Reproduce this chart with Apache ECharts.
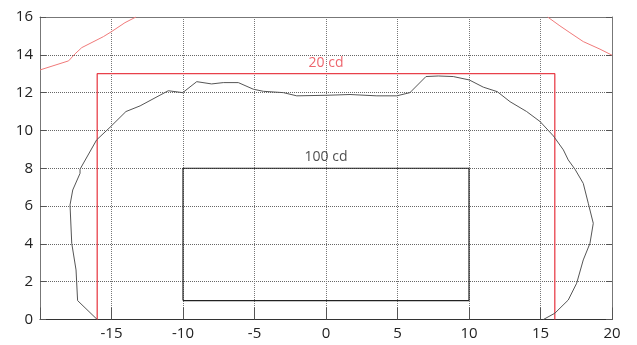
<!DOCTYPE html>
<html><head><meta charset="utf-8">
<script src="https://cdn.jsdelivr.net/npm/echarts@6/dist/echarts.min.js"></script>
<style>html,body{margin:0;padding:0;background:#fff}#c{width:637px;height:345px}</style>
</head><body><div id="c"></div>
<script>
// Data (x, y pairs)
const contour = [[15.2,0],[16.0,0.33],[16.94,1.03],[17.53,1.92],[17.99,3.15],[18.46,4.03],[18.69,5.09],[18.34,6.15],[17.99,7.2],[17.41,7.95],[16.94,8.44],[16.6,8.97],[15.9,9.71],[14.97,10.47],[14.03,11.0],[12.87,11.52],[11.98,12.05],[11.0,12.29],[10.02,12.67],[8.9,12.85],[7.85,12.88],[6.99,12.85],[5.87,12.0],[4.95,11.83],[3.55,11.83],[1.68,11.9],[0.05,11.86],[-2.05,11.83],[-2.98,12.0],[-4.38,12.07],[-5.08,12.18],[-6.13,12.53],[-7.18,12.53],[-8.0,12.46],[-9.04,12.58],[-10.02,12.0],[-11.03,12.1],[-13.0,11.3],[-13.99,11.0],[-15.1,10.17],[-16.04,9.5],[-17.2,7.95],[-17.2,7.73],[-17.71,6.85],[-17.9,6.06],[-17.78,4.03],[-17.48,2.62],[-17.37,1.0],[-16.0,0]];
const redCurveLeft = [[-20,13.2],[-18.0,13.68],[-17.55,14.05],[-17.08,14.38],[-15.57,14.96],[-14.99,15.23],[-14.06,15.7],[-13.29,16]];
const redCurveRight = [[15.5,16],[16.36,15.53],[17.06,15.17],[17.99,14.7],[19.16,14.3],[20,13.98]];
const rect20 = [[-16,0],[-16,13],[16,13],[16,0]];
const rect100 = [[-10,1],[-10,8],[10,8],[10,1],[-10,1]];
const labelPoints = [[0,13,'20 cd'],[0,8,'100 cd']];
const xTicks = [-15,-10,-5,0,5,10,15,20];
const yTicks = [0,2,4,6,8,10,12,14,16];

const chart = echarts.init(document.getElementById('c'), null, {renderer:'canvas'});
const font = '"Open Sans", sans-serif';
const lineSeries = (data, color, width) => ({type:'line', data, showSymbol:false, symbol:'none', lineStyle:{color, width}, animation:false, z:3});
chart.setOption({
  animation:false,
  grid:{left:40, right:25, top:17, bottom:25.5},
  xAxis:[{type:'value', min:-20, max:20, interval:5,
    axisLine:{show:true, onZero:false, lineStyle:{color:'#333', width:1}},
    axisTick:{show:true, inside:true, length:12, lineStyle:{color:'#555'}},
    axisLabel:{color:'#222', fontSize:15, fontFamily:font, margin:7,
      formatter:v => xTicks.includes(v) ? String(v) : ''},
    splitLine:{show:true, lineStyle:{type:'dotted', color:'#777', width:1}}},
    {type:'value', position:'top', min:-20, max:20, interval:5,
    axisLine:{show:true, onZero:false, lineStyle:{color:'#777'}}, axisTick:{show:false}, axisLabel:{show:false}, splitLine:{show:false}}],
  yAxis:[{type:'value', min:0, max:16, interval:2,
    axisLine:{show:true, onZero:false, lineStyle:{color:'#777'}},
    axisTick:{show:true, inside:true, length:6, lineStyle:{color:'#555'}},
    axisLabel:{color:'#222', fontSize:15, fontFamily:font, margin:7,
      formatter:v => yTicks.includes(v) ? String(v) : ''},
    splitLine:{show:true, lineStyle:{type:'dotted', color:'#666', width:1}}},
    {type:'value', position:'right', min:0, max:16, interval:2,
    axisLine:{show:true, onZero:false, lineStyle:{color:'#777'}},
    axisTick:{show:true, inside:true, length:6, lineStyle:{color:'#555'}},
    axisLabel:{show:false}, splitLine:{show:false}}],
  series:[
    lineSeries(redCurveLeft, '#f07a7a', 1),
    lineSeries(redCurveRight, '#f07a7a', 1),
    lineSeries(rect20, '#e8404a', 1.3),
    lineSeries(contour, '#555', 1),
    lineSeries(rect100, '#222', 1.2),
    {type:'scatter', symbolSize:0, animation:false, z:5,
     data: labelPoints.map(p => ({value:[p[0],p[1]], name:p[2],
       label:{show:true, position:'top', distance:4, formatter:p[2], fontSize:14, fontFamily:font,
         color: p[2]==='20 cd' ? '#e8404a' : '#222'}}))}
  ]
});
</script></body></html>
